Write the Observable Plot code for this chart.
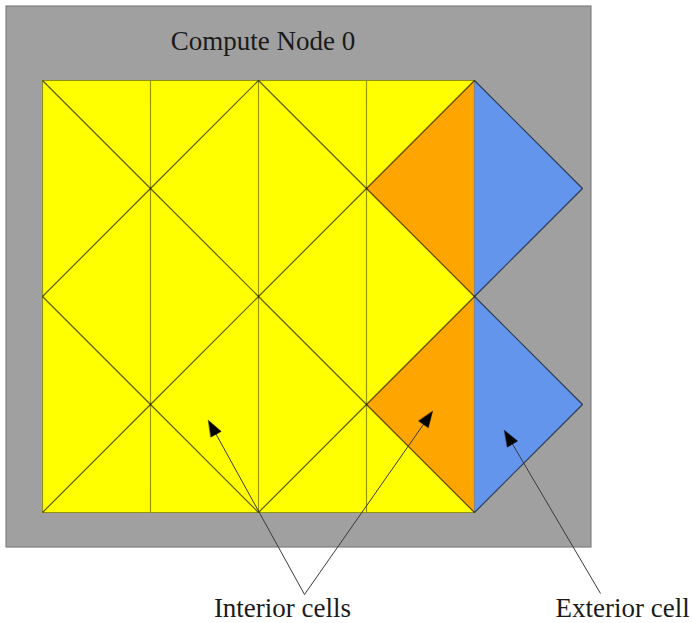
<!DOCTYPE html>
<html>
<head>
<meta charset="utf-8">
<script src="https://cdn.jsdelivr.net/npm/d3@7"></script>
<script src="https://cdn.jsdelivr.net/npm/@observablehq/plot@0.6"></script>
<style>
  html, body { margin: 0; padding: 0; background: #ffffff; }
  #chart svg { display: block; overflow: visible; }
</style>
</head>
<body>
<div id="chart"></div>
<script>
// ---- Data (mesh units: one grid column = 1) ----
const nodeTitle = "Compute Node 0";
const nodeBox = [{x1: -0.333, x2: 5.083, y1: -0.685, y2: 4.324}];

// interior cells (yellow)
const interiorCells = [
  [[0,0],[1,0],[1,1]], [[0,0],[1,1],[0,2]], [[1,1],[0,2],[1,3]], [[0,2],[1,3],[0,4]], [[1,3],[1,4],[0,4]],
  [[1,0],[2,0],[1,1]], [[1,1],[2,0],[2,2]], [[1,1],[2,2],[1,3]], [[1,3],[2,2],[2,4]], [[1,3],[2,4],[1,4]],
  [[2,0],[3,0],[3,1]], [[2,0],[3,1],[2,2]], [[3,1],[2,2],[3,3]], [[2,2],[3,3],[2,4]], [[3,3],[3,4],[2,4]],
  [[3,0],[4,0],[3,1]], [[3,1],[4,2],[3,3]], [[3,3],[4,4],[3,4]]
];
// interior cells on the node boundary (orange)
const boundaryCells = [
  [[3,1],[4,0],[4,2]], [[3,3],[4,2],[4,4]]
];
// exterior (ghost) cells (blue)
const exteriorCells = [
  [[4,0],[5,1],[4,2]], [[4,2],[5,3],[4,4]]
];

const labelTexts = ["Interior cells", "Exterior cell"];
const labelPos = [[2.222, 4.972], [4.75, 4.972]];

// annotation arrows: [label index, tail, tip]
const arrowLabel = [0, 0, 1];
const arrowTail = [[2.426, 4.759], [2.426, 4.759], [5.167, 4.750]];
const arrowTip  = [[1.537, 3.148], [3.611, 3.065], [4.278, 3.241]];

// ---- Derived tables ----
function polyRows(cells, type) {
  const rows = [];
  cells.forEach((tri, i) => tri.forEach(([x, y]) => rows.push({cell: type + i, x, y})));
  return rows;
}
const allCells = [...interiorCells, ...boundaryCells, ...exteriorCells];
const edgeMap = new Map();
for (const tri of allCells) {
  for (let k = 0; k < 3; k++) {
    const a = tri[k], b = tri[(k + 1) % 3];
    const key = [a, b].map(p => p.join(",")).sort().join("|");
    if (!edgeMap.has(key)) edgeMap.set(key, {x1: a[0], y1: a[1], x2: b[0], y2: b[1]});
  }
}
const edges = [...edgeMap.values()];
const straightEdges = edges.filter(e => (e.x1 === e.x2 && e.x1 !== 4) || e.y1 === e.y2);
const seamEdges = edges.filter(e => e.x1 === e.x2 && e.x1 === 4);
const diagEdges = edges.filter(e => e.x1 !== e.x2 && e.y1 !== e.y2);

const arrows = arrowTail.map((t, i) => ({x1: t[0], y1: t[1], x2: arrowTip[i][0], y2: arrowTip[i][1], label: arrowLabel[i]}));
const headLen = 0.145, headHalf = 0.054;
const headRows = [];
arrows.forEach((a, i) => {
  const dx = a.x2 - a.x1, dy = a.y2 - a.y1, d = Math.hypot(dx, dy);
  const ux = dx / d, uy = dy / d;
  const bx = a.x2 - ux * headLen, by = a.y2 - uy * headLen;
  headRows.push({cell: "h" + i, x: a.x2, y: a.y2});
  headRows.push({cell: "h" + i, x: bx - uy * headHalf, y: by + ux * headHalf});
  headRows.push({cell: "h" + i, x: bx + uy * headHalf, y: by - ux * headHalf});
});
const shafts = arrows.map(a => {
  const dx = a.x2 - a.x1, dy = a.y2 - a.y1, d = Math.hypot(dx, dy);
  return {x1: a.x1, y1: a.y1, x2: a.x2 - dx / d * headLen * 0.8, y2: a.y2 - dy / d * headLen * 0.8};
});

const W = 692, H = 623, U = 108, OX = 42, OY = 80;
const fontFamily = "'Liberation Serif', 'DejaVu Serif', serif";

const chart = Plot.plot({
  width: W,
  height: H,
  margin: 0,
  x: {domain: [-OX / U, (W - OX) / U], axis: null},
  y: {domain: [(H - OY) / U, -OY / U], axis: null},
  style: {background: "transparent", fontFamily},
  marks: [
    Plot.rect(nodeBox, {x1: "x1", x2: "x2", y1: "y1", y2: "y2", fill: "#a0a0a0", stroke: "#7e7e7e", strokeWidth: 1.2}),
    Plot.line(polyRows(interiorCells, "i"), {x: "x", y: "y", z: "cell", curve: "linear-closed", fill: "#ffff00", stroke: "#ffff00", strokeWidth: 0.5}),
    Plot.line(polyRows(boundaryCells, "b"), {x: "x", y: "y", z: "cell", curve: "linear-closed", fill: "#ffa500", stroke: "#ffa500", strokeWidth: 0.5}),
    Plot.line(polyRows(exteriorCells, "e"), {x: "x", y: "y", z: "cell", curve: "linear-closed", fill: "#6495ed", stroke: "#6495ed", strokeWidth: 0.5}),
    Plot.link(straightEdges, {x1: "x1", y1: "y1", x2: "x2", y2: "y2", stroke: "#5a5a00", strokeOpacity: 0.6, strokeWidth: 1.2}),
    Plot.link(seamEdges, {x1: "x1", y1: "y1", x2: "x2", y2: "y2", stroke: "#000000", strokeOpacity: 0.12, strokeWidth: 1}),
    Plot.link(diagEdges, {x1: "x1", y1: "y1", x2: "x2", y2: "y2", stroke: "#000000", strokeOpacity: 0.62, strokeWidth: 1.2}),
    Plot.text([nodeTitle], {x: [2.042], y: [-0.278], text: d => d, textAnchor: "middle", lineAnchor: "bottom", fontSize: 27, fill: "#1a1a1a", fontFamily}),
    Plot.link(shafts, {x1: "x1", y1: "y1", x2: "x2", y2: "y2", stroke: "#3a3a3a", strokeWidth: 1}),
    Plot.line(headRows, {x: "x", y: "y", z: "cell", curve: "linear-closed", fill: "#000000", stroke: "#000000", strokeWidth: 0.5}),
    Plot.text([labelTexts[0]], {x: [labelPos[0][0]], y: [labelPos[0][1]], text: d => d, textAnchor: "middle", lineAnchor: "bottom", fontSize: 27, fill: "#1a1a1a", fontFamily}),
    Plot.text([labelTexts[1]], {x: [labelPos[1][0]], y: [labelPos[1][1]], text: d => d, textAnchor: "start", lineAnchor: "bottom", fontSize: 27, fill: "#1a1a1a", fontFamily})
  ]
});
document.getElementById("chart").appendChild(chart);
</script>
</body>
</html>
